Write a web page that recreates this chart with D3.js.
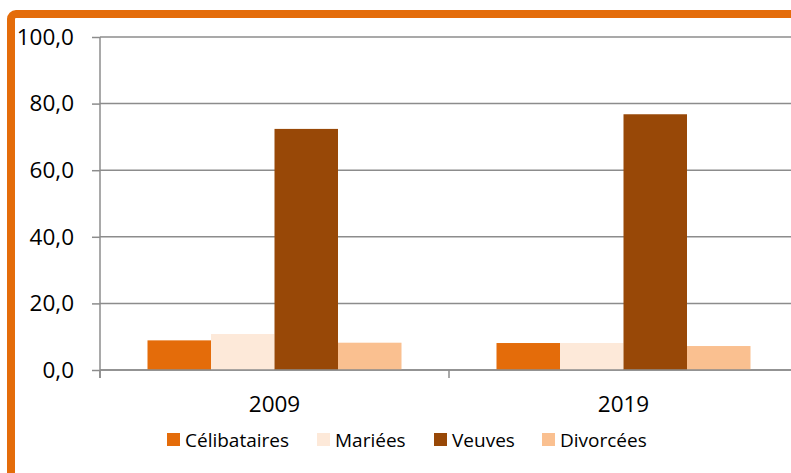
<!DOCTYPE html>
<html>
<head>
<meta charset="utf-8">
<script src="https://cdn.jsdelivr.net/npm/d3@7"></script>
<style>
  html, body { margin: 0; padding: 0; background: #fff; }
  svg { display: block; }
  text { font-family: "Open Sans", "DejaVu Sans", sans-serif; fill: #000; }
</style>
</head>
<body>
<svg id="chart" width="791" height="473"></svg>
<script>
const categories = ["2009", "2019"];
const series = ["Célibataires", "Mariées", "Veuves", "Divorcées"];
const colors = ["#E46C0A", "#FDE9D9", "#984807", "#FAC090"];
const values = {
  "Célibataires": [8.9, 8.1],
  "Mariées": [10.8, 8.1],
  "Veuves": [72.4, 76.8],
  "Divorcées": [8.2, 7.2]
};
const yTicks = [0, 20, 40, 60, 80, 100];

const svg = d3.select("#chart");
const plotLeft = 100, plotRight = 798, plotTop = 37, plotBottom = 370;

// orange frame
svg.append("rect")
  .attr("x", 11).attr("y", 14)
  .attr("width", 900).attr("height", 600)
  .attr("rx", 5)
  .attr("fill", "none")
  .attr("stroke", "#E46C0A")
  .attr("stroke-width", 8);

const x0 = d3.scaleBand().domain(categories).range([plotLeft, plotRight]).padding(0);
const x1 = d3.scaleBand().domain(series).range([0, x0.bandwidth()]).paddingInner(0).paddingOuter(0.748);
const y = d3.scaleLinear().domain([0, 100]).range([plotBottom, plotTop]);
const color = d3.scaleOrdinal().domain(series).range(colors);

const fmt = v => d3.format(".1f")(v).replace(".", ",");

// y axis
const yAxis = d3.axisLeft(y).tickValues(yTicks).tickSize(8).tickPadding(18).tickFormat(fmt);
const gy = svg.append("g").attr("transform", `translate(${plotLeft},0)`).call(yAxis);
gy.select(".domain").remove();
gy.selectAll(".tick line").attr("stroke", "#8c8c8c").attr("stroke-width", 1.5);
gy.selectAll(".tick text").style("font-size", "22.5px").style("font-family", "'Open Sans', sans-serif").attr("fill", "#000");

// gridlines
svg.append("g").selectAll("line").data(yTicks).join("line")
  .attr("x1", plotLeft).attr("x2", plotRight)
  .attr("y1", d => y(d)).attr("y2", d => y(d))
  .attr("stroke", "#8c8c8c").attr("stroke-width", 1.5);

// y axis line
svg.append("line").attr("x1", plotLeft).attr("x2", plotLeft).attr("y1", plotTop).attr("y2", plotBottom + 8)
  .attr("stroke", "#8c8c8c").attr("stroke-width", 1.5);

// bars
const groups = svg.append("g").selectAll("g").data(categories).join("g")
  .attr("transform", d => `translate(${x0(d)},0)`);
groups.selectAll("rect")
  .data((c, i) => series.map(s => ({ s, v: values[s][i] })))
  .join("rect")
  .attr("x", d => x1(d.s))
  .attr("width", x1.bandwidth())
  .attr("y", d => y(d.v))
  .attr("height", d => y(0) - y(d.v))
  .attr("fill", d => color(d.s));

// x axis
const xAxis = d3.axisBottom(x0).tickSize(0).tickPadding(26);
const gx = svg.append("g").attr("transform", `translate(0,${plotBottom})`).call(xAxis);
gx.select(".domain").remove();
gx.selectAll(".tick text").style("font-size", "22.5px").style("font-family", "'Open Sans', sans-serif").attr("fill", "#000");
svg.append("line").attr("x1", plotLeft).attr("x2", plotRight).attr("y1", plotBottom).attr("y2", plotBottom)
  .attr("stroke", "#8c8c8c").attr("stroke-width", 1.5);
const boundaries = [plotLeft, x0(categories[1]), plotRight];
svg.append("g").selectAll("line").data(boundaries).join("line")
  .attr("x1", d => d).attr("x2", d => d).attr("y1", plotBottom).attr("y2", plotBottom + 8)
  .attr("stroke", "#8c8c8c").attr("stroke-width", 1.5);

// legend
const legendX = [167, 317, 434, 542];
const lg = svg.append("g").selectAll("g").data(series).join("g")
  .attr("transform", (d, i) => `translate(${legendX[i]},433)`);
lg.append("rect").attr("width", 13).attr("height", 13).attr("fill", d => color(d));
lg.append("text").attr("x", 18).attr("y", 13.5).style("font-size", "19px").text(d => d);
</script>
</body>
</html>
